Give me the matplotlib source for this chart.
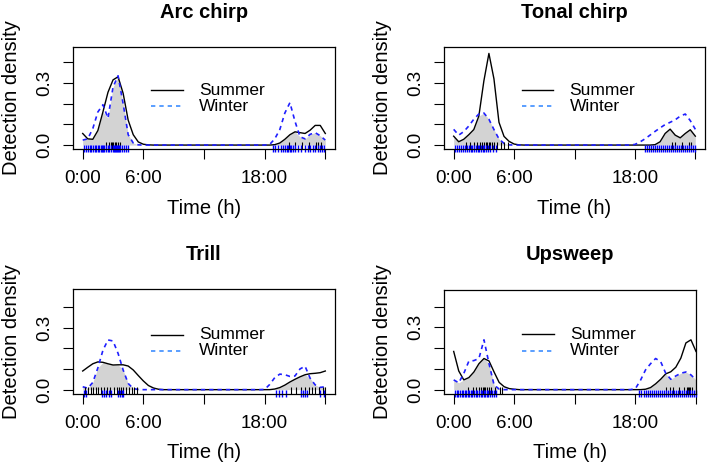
import numpy as np
import matplotlib
matplotlib.use("Agg")
import matplotlib.pyplot as plt

plt.rcParams['font.family'] = ['Liberation Sans', 'DejaVu Sans']

# hours of day, half-hour steps 0:00 .. 24:00
hours = np.arange(0, 24.25, 0.5)

titles = ["Arc chirp", "Tonal chirp", "Trill", "Upsweep"]

# detection density (t = 0, 0.5, ..., 24)
arc_summer = [0.056, 0.030, 0.028, 0.070, 0.160, 0.255, 0.315, 0.330, 0.250, 0.120, 0.050, 0.015,
              0.004, 0.001, 0, 0, 0, 0, 0, 0, 0, 0, 0, 0,
              0, 0, 0, 0, 0, 0, 0, 0, 0, 0, 0, 0,
              0, 0, 0.002, 0.010, 0.028, 0.050, 0.064, 0.060, 0.056, 0.072, 0.095, 0.095, 0.056]
arc_winter = [0.024, 0.030, 0.080, 0.160, 0.195, 0.130, 0.280, 0.335, 0.200, 0.050, 0.010, 0.001,
              0, 0, 0, 0, 0, 0, 0, 0, 0, 0, 0, 0,
              0, 0, 0, 0, 0, 0, 0, 0, 0, 0, 0, 0,
              0, 0.003, 0.030, 0.075, 0.155, 0.205, 0.115, 0.040, 0.030, 0.052, 0.060, 0.045, 0.024]

tonal_summer = [0.043, 0.016, 0.028, 0.050, 0.075, 0.140, 0.310, 0.443, 0.320, 0.110, 0.042, 0.018,
                0.005, 0.001, 0, 0, 0, 0, 0, 0, 0, 0, 0, 0,
                0, 0, 0, 0, 0, 0, 0, 0, 0, 0, 0, 0,
                0, 0, 0, 0, 0.002, 0.016, 0.056, 0.077, 0.048, 0.035, 0.056, 0.074, 0.043]
tonal_winter = [0.076, 0.048, 0.065, 0.092, 0.125, 0.150, 0.155, 0.125, 0.075, 0.030, 0.008, 0.001,
                0, 0, 0, 0, 0, 0, 0, 0, 0, 0, 0, 0,
                0, 0, 0, 0, 0, 0, 0, 0, 0, 0, 0, 0,
                0.003, 0.015, 0.030, 0.048, 0.066, 0.083, 0.099, 0.110, 0.122, 0.140, 0.150, 0.118, 0.076]

trill_summer = [0.090, 0.108, 0.125, 0.134, 0.132, 0.125, 0.119, 0.120, 0.120, 0.114, 0.095, 0.068,
                0.042, 0.020, 0.008, 0.002, 0, 0, 0, 0, 0, 0, 0, 0,
                0, 0, 0, 0, 0, 0, 0, 0, 0, 0, 0, 0,
                0, 0, 0.003, 0.010, 0.022, 0.037, 0.050, 0.062, 0.072, 0.077, 0.079, 0.082, 0.090]
trill_winter = [0.014, 0.007, 0.035, 0.105, 0.190, 0.240, 0.235, 0.175, 0.095, 0.030, 0.005, 0.001,
                0, 0, 0, 0, 0, 0, 0, 0, 0, 0, 0, 0,
                0, 0, 0, 0, 0, 0, 0, 0, 0, 0, 0, 0,
                0.001, 0.025, 0.058, 0.075, 0.072, 0.064, 0.066, 0.100, 0.113, 0.055, 0.023, 0.011, 0.014]

up_summer = [0.184, 0.090, 0.047, 0.058, 0.085, 0.125, 0.150, 0.138, 0.085, 0.035, 0.014, 0.005,
             0.002, 0, 0, 0, 0, 0, 0, 0, 0, 0, 0, 0,
             0, 0, 0, 0, 0, 0, 0, 0, 0, 0, 0, 0,
             0, 0, 0.002, 0.010, 0.028, 0.050, 0.076, 0.086, 0.108, 0.152, 0.225, 0.240, 0.184]
up_winter = [0.047, 0.033, 0.078, 0.137, 0.140, 0.150, 0.240, 0.125, 0.022, 0.003, 0, 0,
             0, 0, 0, 0, 0, 0, 0, 0, 0, 0, 0, 0,
             0, 0, 0, 0, 0, 0, 0, 0, 0, 0, 0, 0,
             0.005, 0.045, 0.095, 0.125, 0.150, 0.135, 0.079, 0.050, 0.066, 0.079, 0.085, 0.071, 0.047]

# detection times (h) shown in the rugs
arc_rug_s = [2.3, 2.6, 2.8, 2.9, 3.0, 3.2, 3.3, 3.5, 3.7, 20.4, 21.0, 21.7, 22.4, 23.1, 23.3, 23.6]
arc_rug_w = [0.1, 0.3, 0.5, 0.7, 0.8, 1.0, 1.2, 1.3, 1.5, 1.6, 1.8, 1.9, 2.0, 2.1, 2.3, 2.5, 2.6,
             2.8, 3.0, 3.1, 3.2, 3.3, 3.4, 3.5, 3.6, 3.7, 3.9, 4.1, 4.3, 4.5,
             18.8, 19.0, 19.3, 19.6, 19.8, 20.0, 20.2, 20.3, 20.5, 20.6, 20.8, 21.0, 21.3, 21.6,
             22.0, 22.3, 22.5, 22.8, 23.0, 23.3, 23.5, 23.7, 23.9]
tonal_rug_s = [1.2, 1.6, 2.0, 2.3, 2.6, 2.8, 3.0, 3.2, 3.3, 3.5, 3.6, 3.8, 4.0, 4.3, 4.7, 5.0, 5.4,
               21.7, 22.0, 22.7, 23.4, 23.6]
tonal_rug_w = [0.1, 0.3, 0.5, 0.7, 0.9, 1.1, 1.3, 1.5, 1.7, 1.8, 2.0, 2.2, 2.4, 2.5, 2.7, 2.9, 3.0,
               3.2, 3.4, 3.6, 3.9, 4.2,
               19.0, 19.2, 19.4, 19.6, 19.8, 20.0, 20.2, 20.4, 20.6, 20.8, 21.0, 21.2, 21.4, 21.6,
               21.8, 22.0, 22.2, 22.4, 22.6, 22.8, 23.0, 23.2, 23.4, 23.6, 23.8, 24.0]
trill_rug_s = [0.2, 0.5, 0.8, 1.0, 1.3, 1.5, 1.8, 2.1, 2.4, 2.7, 3.1, 3.4, 3.6, 3.8, 4.0, 4.3, 4.6,
               4.9, 5.1, 5.4, 20.6, 21.1, 21.6, 22.0, 22.4, 22.7, 23.0, 23.4, 23.8, 24.0]
trill_rug_w = [0.1, 0.3, 1.9, 2.1, 2.3, 2.6, 2.8, 3.5, 3.7, 3.9, 4.0,
               19.1, 19.4, 19.7, 20.1, 21.6, 21.8, 22.0, 22.2, 23.5, 23.9]
up_rug_s = [1.4, 1.9, 2.2, 2.5, 2.7, 2.9, 3.0, 3.1, 3.3, 3.5, 3.7, 4.1, 4.6, 4.8,
            21.0, 21.4, 21.7, 22.3, 22.8, 23.1, 23.2, 23.3, 23.4, 23.6]
up_rug_w = [0.1, 0.3, 0.4, 0.6, 0.8, 0.9, 1.1, 1.2, 1.4, 1.5, 1.7, 1.8, 2.0, 2.2, 2.3, 2.5, 2.7,
            2.8, 3.0, 3.1, 3.3, 3.4, 3.6, 3.8, 4.0, 4.2,
            18.4, 18.6, 18.8, 19.0, 19.2, 19.4, 19.6, 19.8, 20.0, 20.2, 20.4, 20.6, 20.8, 21.0,
            21.2, 21.4, 21.6, 21.8, 22.0, 22.2, 22.4, 22.6, 22.8, 23.0, 23.2, 23.4, 23.6, 23.8, 24.0]

summer = [arc_summer, tonal_summer, trill_summer, up_summer]
winter = [arc_winter, tonal_winter, trill_winter, up_winter]
rug_s = [arc_rug_s, tonal_rug_s, trill_rug_s, up_rug_s]
rug_w = [arc_rug_w, tonal_rug_w, trill_rug_w, up_rug_w]

xticks = [0, 6, 12, 18, 24]
xticklabels = ["0:00", "6:00", "", "18:00", ""]
yticks = [0.0, 0.1, 0.2, 0.3, 0.4]
yticklabels = ["0.0", "", "", "0.3", ""]

W, H = 709, 468
fig = plt.figure(figsize=(W / 100, H / 100), dpi=100)

# axes boxes in pixels: left, right, top, bottom
boxes = [(73, 335, 47, 149), (444, 705, 47, 149),
         (73, 335, 289, 394), (444, 696, 290, 394)]
xlims = [(-0.96, 24.96), (-0.96, 24.96), (-0.96, 24.96), (-0.96, 24.0)]
ylims = [(-0.019, 0.474), (-0.019, 0.474), (-0.021, 0.486), (-0.021, 0.48)]

blue = '#1f1fff'
fs = 12.5      # legend
fs_tick = 13.5
fs_lab = 14.5  # axis labels, titles
dash = (0, (2.6, 2.4))

for i in range(4):
    l, r, t, b = boxes[i]
    ax = fig.add_axes([l / W, 1 - b / H, (r - l) / W, (b - t) / H])
    s = np.array(summer[i])
    w = np.array(winter[i])

    ax.fill_between(hours, 0, np.minimum(s, w), color='#d3d3d3', lw=0)
    ax.plot(hours, s, color='black', lw=1.0)
    ax.plot(hours, w, color=blue, lw=1.2, ls=dash)

    tr = ax.get_xaxis_transform()
    ax.vlines(rug_s[i], 0.0, 0.07, transform=tr, color='black', lw=0.8)
    ax.vlines(rug_w[i], -0.03, 0.04, transform=tr, color='blue', lw=1.0, clip_on=False)

    # legend drawn like R's bty="n"
    ax.plot([6.8, 9.9], [0.266, 0.266], color='black', lw=1.0)
    ax.plot([6.8, 9.9], [0.188, 0.188], color='#3d8eff', lw=1.2, ls=dash)
    ax.text(11.5, 0.266, "Summer", fontsize=fs, va='center')
    ax.text(11.5, 0.188, "Winter", fontsize=fs, va='center')

    ax.set_xlim(*xlims[i])
    ax.set_ylim(*ylims[i])
    ax.set_xticks(xticks)
    ax.set_xticklabels(xticklabels)
    ax.set_yticks(yticks)
    ax.set_yticklabels(yticklabels, rotation=90, va='center')
    ax.tick_params(length=7, width=0.8, labelsize=fs_tick)
    ax.tick_params(axis='x', pad=8)
    ax.tick_params(axis='y', pad=7)

    hgt = b - t
    ax.set_title(titles[i], fontsize=fs_lab, fontweight='bold', y=1 + 35 / hgt, pad=0, va='center')
    ax.set_xlabel("Time (h)", fontsize=fs_lab, va='center')
    ax.xaxis.set_label_coords(0.5, -59 / hgt)
    ax.set_ylabel("Detection density", fontsize=fs_lab, va='center')
    ax.yaxis.set_label_coords(-61 / (r - l), 0.5)

    for sp in ax.spines.values():
        sp.set_linewidth(0.9)

fig.savefig("out.png", dpi=100)
